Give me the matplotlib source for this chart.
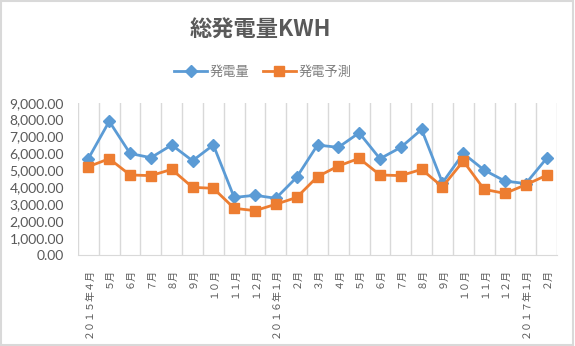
import numpy as np
import matplotlib.pyplot as plt
from matplotlib.patches import Rectangle
from matplotlib.ticker import FuncFormatter

plt.rcParams['font.family'] = ['Lato', 'Noto Sans CJK JP', 'DejaVu Sans']

months = ["２０１５年４月", "５月", "６月", "７月", "８月", "９月", "１０月", "１１月", "１２月",
          "２０１６年１月", "２月", "３月", "４月", "５月", "６月", "７月", "８月", "９月",
          "１０月", "１１月", "１２月", "２０１７年１月", "２月"]
actual = [5700, 7900, 6000, 5750, 6500, 5570, 6500, 3400, 3530, 3350, 4590, 6500,
          6360, 7220, 5690, 6360, 7420, 4270, 6000, 5020, 4370, 4220, 5710]
forecast = [5220, 5690, 4730, 4690, 5060, 4000, 3940, 2760, 2620, 3000, 3400, 4630,
            5260, 5710, 4730, 4690, 5060, 4030, 5550, 3880, 3640, 4150, 4710]

BLUE = "#5B9BD5"
ORANGE = "#ED7D31"
TEXT = "#595959"
GRID = "#D9D9D9"

fig = plt.figure(figsize=(5.75, 3.46), dpi=100)
ax = fig.add_axes([78 / 575, 1 - 255 / 346, 479 / 575, 152.3 / 346])

x = np.arange(len(months))
ax.plot(x, actual, "-D", color=BLUE, lw=2, markersize=6, label="発電量", zorder=3)
ax.plot(x, forecast, "-s", color=ORANGE, lw=2, markersize=7.5, label="発電予測", zorder=3)

ax.set_xlim(-0.5, len(months) - 0.5)
ax.set_ylim(0, 9000)
ax.set_yticks(np.arange(0, 9001, 1000))
ax.yaxis.set_major_formatter(FuncFormatter(lambda v, _: f"{v:,.2f}"))
ax.set_xticks(x)
ax.set_xticklabels(months, rotation=90, va="top", ha="center", fontsize=7.2,
                   family=["Noto Sans CJK JP"])
ax.set_xticks(np.arange(-0.5, len(months)), minor=True)
ax.grid(True, which="minor", axis="x", color=GRID, lw=1)
ax.tick_params(which="both", length=0, colors=TEXT)
ax.tick_params(axis="y", labelsize=10, pad=10)
ax.tick_params(axis="x", pad=9)
for side in ["top", "right", "left"]:
    ax.spines[side].set_visible(False)
ax.spines["bottom"].set_color(GRID)

fig.text(260 / 575, 1 - 30 / 346, "総発電量KWH", ha="center", va="center",
         fontsize=16, fontweight="bold", color=TEXT, family=["Noto Sans CJK JP"])
fig.legend(loc="center", bbox_to_anchor=(263 / 575, 1 - 72 / 346), ncol=2,
           frameon=False, labelcolor="#7F7F7F", handlelength=2.5,
           columnspacing=1.0, handletextpad=0.2,
           prop={"family": "Noto Sans CJK JP", "size": 9.5})

fig.patches.append(Rectangle((0.002, 0.004), 0.994, 0.992, transform=fig.transFigure,
                             fill=False, edgecolor=GRID, lw=1.5))

fig.savefig("out.png", dpi=100)
